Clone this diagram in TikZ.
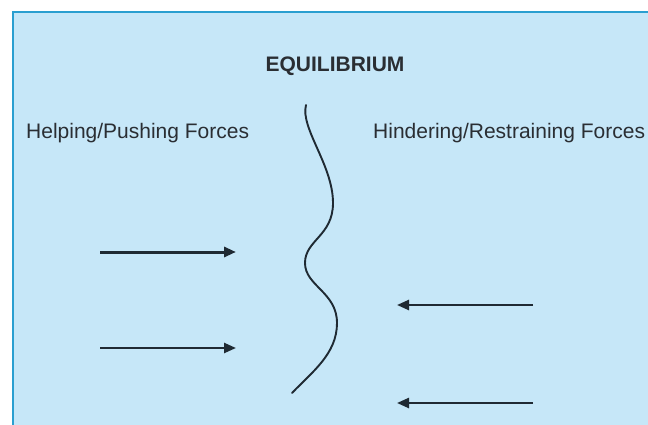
\documentclass[tikz,border=0pt]{standalone}
\usepackage{fontspec}
\setmainfont{Liberation Sans}
\usetikzlibrary{arrows.meta}
\definecolor{panelfill}{HTML}{C6E7F8}
\definecolor{panelrule}{HTML}{2A9FD0}
\definecolor{ink}{HTML}{1F2A33}
\definecolor{txt}{HTML}{2A2E33}
\tikzset{
  label/.style={inner sep=0pt, text=txt, font=\fontsize{21}{25}\selectfont},
  force/.style={draw=ink, line width=2.4pt, -{Triangle[length=12pt,width=10pt]}},
  strongforce/.style={force, line width=3pt},
  boundary/.style={draw=ink, line width=1.9pt, line cap=round}
}
\begin{document}
\begin{tikzpicture}[x=1pt,y=-1pt]
  \useasboundingbox (0,0) rectangle (648,425);
  \fill[white] (0,0) rectangle (648,425);
  \begin{scope}
    \clip (0,0) rectangle (648,425);
    \draw[panelrule, fill=panelfill, line width=2.2pt] (13,12) rectangle (670,445);
  \end{scope}

  % headings
  \node[label, font=\fontsize{21}{25}\selectfont\bfseries, anchor=base] (title) at (335,72) {EQUILIBRIUM};
  \node[label, anchor=base west] (help) at (26,139) {Helping/Pushing Forces};
  \node[label, anchor=base west] (hinder) at (373,139) {Hindering/Restraining Forces};

  % wavy line of balance
  \coordinate (c0) at (306,105);
  \coordinate (c1) at (333,203);
  \coordinate (c2) at (305,263);
  \coordinate (c3) at (337,323);
  \coordinate (c4) at (292,393);
  \draw[boundary] (c0) .. controls (300,128) and (333,165) .. (c1)
                       .. controls (333,236) and (305,240) .. (c2)
                       .. controls (305,286) and (337,292) .. (c3)
                       .. controls (337,354) and (312,372) .. (c4);

  % pushing forces
  \coordinate (p1s) at (100,252); \coordinate (p1e) at (236,252);
  \coordinate (p2s) at (100,348); \coordinate (p2e) at (236,348);
  \draw[strongforce] (p1s) -- (p1e);
  \draw[force] (p2s) -- (p2e);

  % restraining forces
  \coordinate (r1s) at (533,305); \coordinate (r1e) at (397,305);
  \coordinate (r2s) at (533,403); \coordinate (r2e) at (397,403);
  \draw[force] (r1s) -- (r1e);
  \draw[force] (r2s) -- (r2e);
\end{tikzpicture}
\end{document}
